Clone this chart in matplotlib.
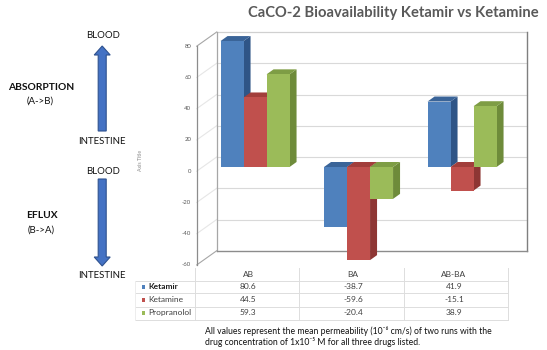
import matplotlib
matplotlib.use('Agg')
import matplotlib.pyplot as plt
from matplotlib.patches import Polygon, Rectangle, FancyArrow

# ---------------- data ----------------
categories = ['AB', 'BA', 'AB-BA']
series_names = ['Ketamir', 'Ketamine', 'Propranolol']
ketamir = [80.6, -38.7, 41.9]
ketamine = [44.5, -59.6, -15.1]
propranolol = [59.3, -20.4, 38.9]
y_ticks = [-60, -40, -20, 0, 20, 40, 60, 80]
title = 'CaCO-2 Bioavailability Ketamir vs Ketamine'
footnote = ['All values represent the mean permeability (10\u207b\u2076 cm/s) of two runs with the',
            'drug concentration of 1x10\u207b\u2075 M for all three drugs listed.']

series = [ketamir, ketamine, propranolol]
front_cols = ['#4F81BD', '#C0504D', '#9BBB59']
side_cols = ['#2F5587', '#8E3634', '#6E8B3A']
top_cols = ['#3A6498', '#A23E3B', '#7E9D45']

FONT = ['Lato', 'DejaVu Sans']
plt.rcParams['font.family'] = FONT

W, H = 547, 350
fig = plt.figure(figsize=(5.47, 3.5), dpi=100)
fig.patch.set_facecolor('white')


def fx(px):
    return px / W


def fy(py):
    return 1 - py / H


# axes = front plane of the bars
ax = fig.add_axes([fx(203.3), fy(260.75), fx(513.8) - fx(203.3), fy(42) - fy(260.75)])
ymin, ymax = -60, 80
ax.set_xlim(-0.5, len(categories) - 0.5)
ax.set_ylim(ymin, ymax)
ax.axis('off')

# pixel -> data unit scale
sx = ax.bbox.width / (len(categories))
sy = ax.bbox.height / (ymax - ymin)


def off(dxp, dyp):
    return dxp / sx, dyp / sy


bdx, bdy = off(13.4, 10)      # back wall offset
fdx, fdy = off(-6.6, -4.2)    # front axis offset
ddx, ddy = off(7, 5)          # bar depth
x_left, x_right = -0.5, len(categories) - 0.5

# back wall
ax.add_patch(Rectangle((x_left + bdx, ymin + bdy), x_right - x_left, ymax - ymin,
                       facecolor='white', edgecolor='none', zorder=1, clip_on=False))
for v in y_ticks[1:]:
    ax.plot([x_left + bdx, x_right + bdx], [v + bdy, v + bdy], color='#D9D9D9', lw=0.8,
            zorder=1.5, clip_on=False)
ax.plot([x_left + bdx, x_right + bdx], [ymax + bdy, ymax + bdy], color='#D0D0D0', lw=0.8, zorder=1.6, clip_on=False)
ax.plot([x_left + bdx, x_left + bdx], [ymin + bdy, ymax + bdy], color='#A6A6A6', lw=0.9, zorder=1.6, clip_on=False)
ax.plot([x_right + bdx, x_right + bdx], [ymin + bdy, ymax + bdy], color='#7F7F7F', lw=1.0, zorder=1.6, clip_on=False)
ax.plot([x_left + bdx, x_right + bdx], [ymin + bdy, ymin + bdy], color='#8C8C8C', lw=1.0, zorder=1.6, clip_on=False)

# side wall
for v in y_ticks:
    edge = v in (ymin, ymax)
    ax.plot([x_left + fdx, x_left + bdx], [v + fdy, v + bdy],
            color='#A6A6A6' if edge else '#E6E6E6', lw=0.8, zorder=1.4, clip_on=False)
ax.plot([x_left + fdx, x_left + fdx], [ymin + fdy, ymax + fdy], color='#8C8C8C', lw=0.9,
        zorder=1.6, clip_on=False)
for v in y_ticks:
    ax.text(x_left + fdx - 5.5 / sx, v + fdy, f'{v}', ha='right', va='center', fontsize=4.3,
            color='#595959', clip_on=False)

# bars
n = len(series)
w = (2 / 3) / n
for j in range(len(categories)):
    for i in range(n):
        v = series[i][j]
        x0 = j + (i - (n - 1) / 2) * w - w / 2
        x1 = x0 + w
        lo, hi = min(0, v), max(0, v)
        z = 3 + j * 0.1 + i * 0.01
        ax.add_patch(Polygon([(x1, lo), (x1 + ddx, lo + ddy), (x1 + ddx, hi + ddy), (x1, hi)],
                             closed=True, facecolor=side_cols[i], edgecolor='none', zorder=z, clip_on=False))
        ax.add_patch(Polygon([(x0, hi), (x0 + ddx, hi + ddy), (x1 + ddx, hi + ddy), (x1, hi)],
                             closed=True, facecolor=top_cols[i], edgecolor='none', zorder=z, clip_on=False))
        ax.add_patch(Rectangle((x0, lo), w, hi - lo, facecolor=front_cols[i], edgecolor='none',
                               zorder=z + 0.001, clip_on=False))

# title
fig.text(fx(393), fy(13), title, ha='center', va='center', fontsize=10.6, fontweight='bold',
         color='#595959')

# axis title
fig.text(fx(141), fy(160), 'Axis Title', rotation=90, ha='center', va='center', fontsize=3.8,
         color='#8C8C8C')

# data table
col_centers = [248, 353, 454]
col_edges = [195, 299, 404, 508]
row_y = [286.7, 299.8, 312.9]
header_y = 274.5
line_y = [280.5, 293.3, 306.5, 319.5]
tc = '#DDDDDD'
for yy in line_y:
    fig.add_artist(plt.Line2D([fx(135), fx(508)], [fy(yy), fy(yy)], color=tc, lw=0.7))
for xx in col_edges:
    fig.add_artist(plt.Line2D([fx(xx), fx(xx)], [fy(268), fy(319.5)], color=tc, lw=0.7))
fig.add_artist(plt.Line2D([fx(135), fx(135)], [fy(280.5), fy(319.5)], color='#EDEDED', lw=0.7))
for c, xc in zip(categories, col_centers):
    fig.text(fx(xc), fy(header_y), c, ha='center', va='center', fontsize=6.0, color='#404040')
for i, name in enumerate(series_names):
    for j, xc in enumerate(col_centers):
        fig.text(fx(xc), fy(row_y[i]), f'{series[i][j]:.1f}', ha='center', va='center',
                 fontsize=6.0, color='#404040')
    fig.add_artist(Rectangle((fx(141.8), fy(row_y[i] + 2)), fx(3.6), fy(0) - fy(3.6),
                             facecolor=front_cols[i], edgecolor='none'))
    fig.text(fx(148), fy(row_y[i]), name, ha='left', va='center', fontsize=6.0,
             color='#202020' if i == 0 else '#404040', fontweight='bold' if i == 0 else 'normal')

# footnote
for k, line in enumerate(footnote):
    fig.text(fx(205), fy(331 + k * 11), line, ha='left', va='center', fontsize=6.2, color='#111111',
             family=FONT)

# left annotations
big = 6.9
fig.text(fx(103), fy(35), 'BLOOD', ha='center', va='center', fontsize=big, color='#111111')
fig.text(fx(102), fy(142), 'INTESTINE', ha='center', va='center', fontsize=big, color='#111111')
fig.text(fx(103), fy(171), 'BLOOD', ha='center', va='center', fontsize=big, color='#111111')
fig.text(fx(102), fy(275), 'INTESTINE', ha='center', va='center', fontsize=big, color='#111111')
fig.text(fx(41), fy(88), 'ABSORPTION', ha='center', va='center', fontsize=7.4, fontweight='bold',
         color='#111111')
fig.text(fx(40.5), fy(101.5), '(A->B)', ha='center', va='center', fontsize=big, color='#111111')
fig.text(fx(41.5), fy(216), 'EFLUX', ha='center', va='center', fontsize=7.4, fontweight='bold',
         color='#111111')
fig.text(fx(41), fy(230), '(B->A)', ha='center', va='center', fontsize=big, color='#111111')


# arrows drawn in pixel coordinates on an overlay axes
ov = fig.add_axes([0, 0, 1, 1], zorder=-1)
ov.set_xlim(0, W)
ov.set_ylim(H, 0)
ov.axis('off')
ov.add_patch(FancyArrow(102.2, 131, 0, -85, width=8, head_width=16, head_length=9,
                        length_includes_head=True, facecolor='#4472C4', edgecolor='#2F528F', lw=0.8))
ov.add_patch(FancyArrow(102.2, 179, 0, 87, width=8, head_width=16, head_length=9,
                        length_includes_head=True, facecolor='#4472C4', edgecolor='#2F528F', lw=0.8))

fig.savefig('out.png', dpi=100, facecolor='white')
